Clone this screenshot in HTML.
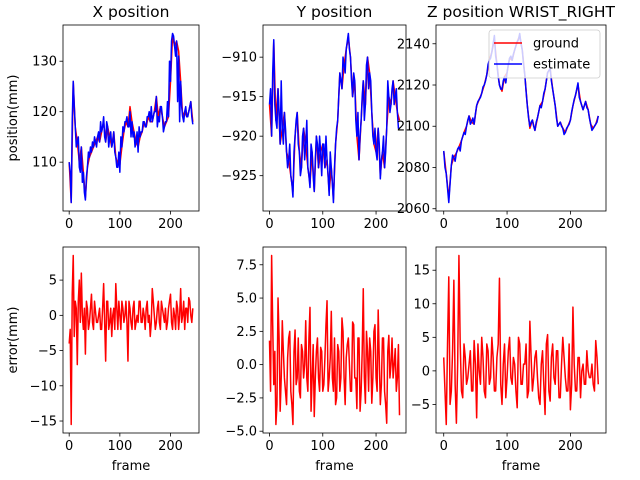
<!DOCTYPE html>
<html><head><meta charset="utf-8"><style>
html,body{margin:0;padding:0;background:#fff;}
svg{display:block;font-family:"DejaVu Sans","Liberation Sans",sans-serif;}
</style></head><body>
<svg id="fig" width="640" height="480" xmlns="http://www.w3.org/2000/svg"></svg>
<script>
const frames=[0,4,8,12,16,20,24,28,32,36,40,44,48,52,56,60,64,68,72,76,80,84,88,92,96,100,104,108,112,116,120,124,128,132,136,140,144,148,152,156,160,164,168,172,176,180,184,188,192,196,200,204,208,212,216,220,224,228,232,236,240,244];
const midFrames=[2,6,10,14,18,22,26,30,34,38,42,46,50,54,58,62,66,70,74,78,82,86,90,94,98,102,106,110,114,118,122,126,130,134,138,142,146,150,154,158,162,166,170,174,178,182,186,190,194,198,202,206,210,214,218,222,226,230,234,238,242];
const xGround=[110,102,126,117,114,110,113,108,103,109,111,112,113,114,115,114,116,118,114,117,115,113,116,111,109.5,109.5,113,116,118,117,121,118,116,114,113,115,116,118,117,119,118,118,120,123,119,121,119,117,118,119,126,135,133,134,132,126,119,120,119,120,122,118];
const xEstimate=[110,102,126,117,114,109,113,108,102.5,109,111,112,113,114,115,114,116,119,114,117,115,113,116,111,109,108,113,116,118,117,120,118,116,114,112,115,116,118,117,119,118,118,120,123,119,121,119,117,118,119,126,135.5,133,134,131,126,119,120,119,120,122,117.5];
const xEstimateMid=[108,118,121,113,115,108,106,104,107,112,113,114,115,113,116,118,117,115,118,113,116,114,112,109,112,115,117,118,119,117,115,115,113,116,117,116,118,117,119,120,121,119,120,117,118,121,116,118,122,130,134,135,131,122,118,121,118,121,119,121,119];
const yGround=[-916,-920,-908,-918,-914,-921,-919,-917,-922,-923,-925,-927,-920,-917,-922,-924,-919,-921,-924,-926,-922,-927,-920,-924,-922,-921,-924,-923,-927,-924,-928,-921,-918,-912,-914,-911,-909,-907.5,-910,-915,-913,-920,-923,-918,-913,-916,-910,-912,-917,-921,-922,-919,-925,-922,-924,-919,-915,-916,-913,-915,-917,-918];
const yEstimate=[-916,-920,-907.8,-918,-914,-921,-919,-917,-922,-923,-925,-927.7,-920,-917,-922,-924,-919,-921,-924,-926.5,-922,-927,-920,-924,-922,-921,-924,-923,-927.5,-924,-928.4,-921,-918,-912,-914,-911,-909,-907,-910,-915,-913,-920,-923,-918,-913,-916,-910,-912,-917,-921,-922,-919,-925.4,-922,-924,-919,-915,-916,-913,-915,-917,-919];
const yEstimateMid=[-914,-912,-916,-919,-917,-913,-921,-919,-924,-921,-926,-922,-918,-921,-925,-920,-923,-918,-925,-921,-925,-923,-921,-920,-925,-921,-920,-925,-922,-926,-924,-919,-915,-913,-910,-912,-908,-909,-913,-912,-918,-917,-920,-915,-918,-911,-914,-913,-920,-919,-923,-921,-923,-920,-922,-913,-917,-914,-916,-914,-919];
const zGround=[2088,2077,2065,2081,2085,2087,2090,2093,2097,2100,2105,2102,2101,2110,2113,2116,2120,2125,2132,2136,2142,2130,2120,2117,2124,2126,2133,2132,2137,2141,2144,2137,2125,2110,2099,2103,2098,2104,2110,2112,2118,2126,2128,2118,2110,2100,2102,2099,2097,2100,2103,2110,2115,2120,2112,2108,2112,2108,2101,2099,2101,2105];
const zEstimate=[2088,2077,2063,2081,2085,2087,2090,2093,2097,2100,2105,2102,2101,2110,2113,2116,2120,2125,2132,2136,2144,2130,2120,2118,2124,2126,2133,2132,2137,2141,2145,2137,2125,2110,2100,2103,2098,2104,2110,2112,2118,2126,2128,2118,2110,2100,2102,2099,2097,2100,2103,2110,2115,2121,2112,2108,2112,2108,2101,2099,2101,2105];
const zEstimateMid=[2080,2070,2072,2086,2083,2089,2088,2095,2096,2103,2101,2104,2106,2112,2114,2119,2122,2130,2133,2140,2134,2124,2118,2122,2121,2130,2134,2135,2139,2142,2140,2130,2117,2104,2102,2100,2102,2107,2109,2116,2122,2127,2122,2114,2104,2101,2100,2096,2099,2101,2107,2113,2118,2114,2110,2110,2109,2104,2098,2100,2102];
const xError=[-4,-15.5,8.5,2,-7,5,6,-2,-5.5,1,-1,3,-2,0.5,-1,1,-2,4.5,-6.5,2,-1,-3,1,4.5,-2,0,2,-1,2,-6.5,1,-2,2,-1,-1,2,-1,0,1,-1,-3,3.8,0,-1,2,-2,1,-1,-2,1,3,-2,0,2,-2,3.8,0,-2,1,2.5,0,1];
const xErrorMid=[-2,3,-3,1,2,-1,0,1,2,-2,1,-1,2,-1,0,-2,1,-1,2,-2,1,0,-2,1,2,-2,1,0,-1,2,-1,1,-2,0,2,-1,1,-2,2,0,-1,2,-2,1,-1,2,0,1,-1,2,-1,1,-2,1,0,-1,2,1,-1,2,-1];
const yError=[1.8,8.2,-1.5,-4.5,5,-3.5,3.3,-1,-3,2,-2,-4.5,2.6,-1,-2,1.5,-1,3.3,-2,4.3,-1,-3.9,1,-1,1.3,-2,0.5,4.8,-1,4,-2,-3,1.5,-2,3.5,-1,0.5,2,-2,3.2,-1,-3.3,2,-2,5.7,-2.9,1,2,-2.9,2.5,-1,4.1,-3,2,-2,-4.4,2.2,0,-1,1.2,-1,-3.8];
const yErrorMid=[-2,3,1,-3,2,-1,1,-2,0.5,2.5,-3,1,-1.5,2,-2.5,1,0,-1,2,-3.5,1.5,-1,2,-2,1,-1.5,3,-2,0.5,-1,2,-2.5,1,-1,2.5,-3,1.5,0,-2,3,-1,2,-3.5,1,-1,2.5,-2,1,-1,3,-2,0.5,-1.5,2,-3,1,-1,2,0,-2,1.5];
const zError=[2,-8,14,-3,13.5,-7.8,17.2,-3,4,-2,1,-3,4.5,-7,0,5,-3,4,-2,5,-3,2,13.8,-5,4,-1,5,-2,1,-5.5,4,-2,1,-4,7.4,-3,2,-1,-5,3,-6.5,5.4,-4.5,4,-2,3,-4,5,-1,-3,-5.8,9.5,-3,2,-4,1,-2,0,-1,-2,4.5,-2];
const zErrorMid=[-3,4,-5,3,-2,1,4,-4,2,-1,3,-3,1,4,-2,2,-4,3,-1,2,-3,4,-2,1,-4,3,-1,2,-3,5,-2,1,4,-3,2,-1,3,-4,1,-2,4,-3,2,-1,3,-4,1,2,-3,4,-2,1,-3,2,0,-2,3,-1,1,-3,2];
const xTicksFrame=[0,100,200];
const ticksXPos=[110,120,130];
const ticksYPos=[-925,-920,-915,-910];
const ticksZPos=[2060,2080,2100,2120,2140];
const ticksXErr=[-15,-10,-5,0,5];
const ticksYErr=[-5.0,-2.5,0.0,2.5,5.0,7.5];
const ticksZErr=[-5,0,5,10,15];

const NS="http://www.w3.org/2000/svg";
const svg=document.getElementById('fig');
function mk(tag,attrs,parent){const e=document.createElementNS(NS,tag);for(const k in attrs)e.setAttribute(k,attrs[k]);(parent||svg).appendChild(e);return e;}
function fmt(v,dec){return (v<0?'\u2212':'')+Math.abs(v).toFixed(dec);}
function merge(f1,v1,f2,v2){
  const pts=[];
  f1.forEach((f,i)=>pts.push([f,v1[i]]));
  if(f2)f2.forEach((f,i)=>{if(i<v2.length)pts.push([f,v2[i]]);});
  pts.sort((a,b)=>a[0]-b[0]);
  return pts;
}

function panel(name,box,series,yTicks,dec,opts){
  const g=mk('g',{});
  
  
  let lo=Infinity,hi=-Infinity,f0=Infinity,f1=-Infinity;
  series.forEach(s=>s.pts.forEach(p=>{lo=Math.min(lo,p[1]);hi=Math.max(hi,p[1]);f0=Math.min(f0,p[0]);f1=Math.max(f1,p[0]);}));
  const m=(hi-lo)*0.05;lo-=m;hi+=m;
  const fm=(f1-f0)*0.05;
  const sx=v=>box.x+(v-(f0-fm))/((f1+fm)-(f0-fm))*box.w;
  const sy=v=>box.y+box.h-(v-lo)/(hi-lo)*box.h;
  series.forEach(s=>{
    const d=s.pts.map((p,i)=>(i?'L':'M')+sx(p[0]).toFixed(2)+' '+sy(p[1]).toFixed(2)).join(' ');
    const p=mk('path',{d:d,fill:'none',stroke:s.color,'stroke-width':1.5,'stroke-linejoin':'round'},g);
    
    
  });
  const fr=mk('rect',{x:box.x,y:box.y,width:box.w,height:box.h,fill:'none',stroke:'#000','stroke-width':0.8},g);
  
  
  xTicksFrame.forEach(t=>{
    const x=sx(t);
    mk('line',{x1:x,x2:x,y1:box.y+box.h,y2:box.y+box.h+3.5,stroke:'#000','stroke-width':0.8},g);
    const tx=mk('text',{x:x,y:box.y+box.h+17,'font-size':13,'text-anchor':'middle',fill:'#000'},g);
    tx.textContent=t;
    
    
  });
  yTicks.forEach(t=>{
    const y=sy(t);
    mk('line',{x1:box.x-3.5,x2:box.x,y1:y,y2:y,stroke:'#000','stroke-width':0.8},g);
    const tx=mk('text',{x:box.x-6,y:y+4.5,'font-size':13,'text-anchor':'end',fill:'#000'},g);
    tx.textContent=fmt(t,dec);
    
    
  });
  if(opts.title){const t=mk('text',{x:box.x+box.w/2,y:box.y-8,'font-size':15.5,'text-anchor':'middle',fill:'#000'},g);t.textContent=opts.title;
    
    }
  if(opts.ylabel){const t=mk('text',{x:0,y:0,'font-size':13,'text-anchor':'middle',fill:'#000',transform:'translate(17,'+(box.y+box.h/2)+') rotate(-90)'},g);t.textContent=opts.ylabel;
    
    }
  if(opts.xlabel){const t=mk('text',{x:box.x+box.w/2,y:box.y+box.h+37,'font-size':13,'text-anchor':'middle',fill:'#000'},g);t.textContent=opts.xlabel;
    
    }
}
const R1={y:25,h:186},R2={y:247,h:186};
panel('x-position-panel',{x:63,w:136,...R1},[{name:'x-ground-line',pts:merge(frames,xGround),color:'#ff0000'},{name:'x-estimate-line',pts:merge(frames,xEstimate,midFrames,xEstimateMid),color:'#0000ff'}],ticksXPos,0,{title:'X position',ylabel:'position(mm)'});
panel('y-position-panel',{x:263,w:143,...R1},[{name:'y-ground-line',pts:merge(frames,yGround),color:'#ff0000'},{name:'y-estimate-line',pts:merge(frames,yEstimate,midFrames,yEstimateMid),color:'#0000ff'}],ticksYPos,0,{title:'Y position'});
panel('z-position-panel',{x:436,w:170,...R1},[{name:'z-ground-line',pts:merge(frames,zGround),color:'#ff0000'},{name:'z-estimate-line',pts:merge(frames,zEstimate,midFrames,zEstimateMid),color:'#0000ff'}],ticksZPos,0,{title:'Z position WRIST_RIGHT'});
panel('x-error-panel',{x:63,w:136,...R2},[{name:'x-error-line',pts:merge(frames,xError,midFrames,xErrorMid),color:'#ff0000'}],ticksXErr,0,{ylabel:'error(mm)',xlabel:'frame'});
panel('y-error-panel',{x:263,w:143,...R2},[{name:'y-error-line',pts:merge(frames,yError,midFrames,yErrorMid),color:'#ff0000'}],ticksYErr,1,{xlabel:'frame'});
panel('z-error-panel',{x:436,w:170,...R2},[{name:'z-error-line',pts:merge(frames,zError,midFrames,zErrorMid),color:'#ff0000'}],ticksZErr,0,{xlabel:'frame'});

const lg=mk('g',{});


mk('rect',{x:489,y:30,width:111,height:48,rx:3,fill:'rgba(255,255,255,0.8)',stroke:'#ccc','stroke-width':0.8},lg);
[['ground','#ff0000',43],['estimate','#0000ff',64]].forEach(e=>{
  const it=mk('g',{},lg);
  
  
  mk('line',{x1:494,x2:522,y1:e[2],y2:e[2],stroke:e[1],'stroke-width':1.5},it);
  const t=mk('text',{x:533,y:e[2]+4.5,'font-size':13,fill:'#000'},it);t.textContent=e[0];
});
</script>
</body></html>
